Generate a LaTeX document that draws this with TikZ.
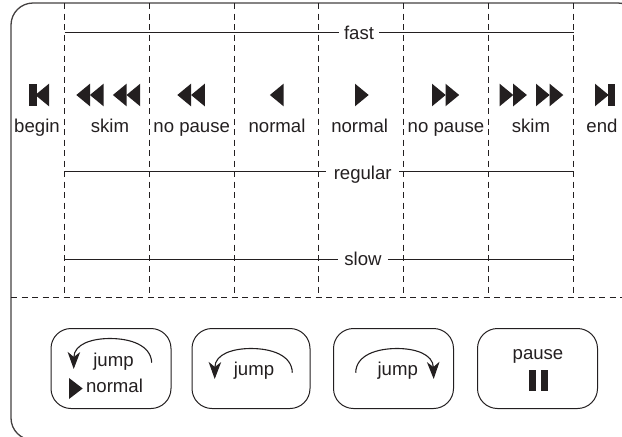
\documentclass[tikz,border=0pt]{standalone}
\usepackage{fontspec}
\setmainfont{Liberation Sans}
\usetikzlibrary{arrows.meta}
\definecolor{ink}{HTML}{231F20}
\tikzset{
  lbl/.style={anchor=base,inner sep=0pt,font=\fontsize{18.6}{20}\selectfont,text=ink},
  axis/.style={lbl,inner xsep=5pt},
  guide/.style={draw=ink,line width=0.9pt,dash pattern=on 6pt off 4.5pt},
  speed/.style={draw=ink,line width=1pt},
  btn/.style={draw=ink,line width=1pt,rounded corners=20pt},
  glyph/.style={fill=ink,draw=none},
  jumparc/.style={draw=ink,line width=1.1pt,-{Stealth[length=17pt,width=12.5pt,inset=5pt]}}
}
\newcommand{\triR}[2]{\path[glyph] (#1,83.7) -- ++(13.7,11.3) -- ++(-13.7,11.3) -- cycle;}
\newcommand{\triL}[2]{\path[glyph] (#1,83.7) -- ++(-13.7,11.3) -- ++(13.7,11.3) -- cycle;}
\begin{document}
\begin{tikzpicture}[x=1pt,y=-1pt]
\useasboundingbox (0,0) rectangle (622,437);
\clip (0,0) rectangle (622,437);
% frame
\draw[draw=ink!85,line width=1.3pt,rounded corners=22pt] (11,3) rectangle (640,440);
% guides
\coordinate (gt1) at (64.5,3);\coordinate (gb1) at (64.5,297);
\coordinate (gt2) at (149.5,3);\coordinate (gb2) at (149.5,297);
\coordinate (gt3) at (234.5,3);\coordinate (gb3) at (234.5,297);
\coordinate (gt4) at (318.5,3);\coordinate (gb4) at (318.5,297);
\coordinate (gt5) at (403.5,3);\coordinate (gb5) at (403.5,297);
\coordinate (gt6) at (488.5,3);\coordinate (gb6) at (488.5,297);
\coordinate (gt7) at (573.5,3);\coordinate (gb7) at (573.5,297);
\foreach \i in {1,...,7} \draw[guide] (gt\i) -- (gb\i);
\coordinate (hl) at (11,297);\coordinate (hr) at (622,297);
\draw[guide] (hl) -- (hr);
% speed lines
\node[axis] (fast) at (359,39) {fast};
\node[axis,inner xsep=7.5pt] (regular) at (362.7,179.3) {regular};
\node[axis,inner xsep=6pt] (slow) at (363,265) {slow};
\coordinate (fl) at (64.5,32.5);\coordinate (fr) at (573.5,32.5);
\coordinate (rl) at (64.5,171);\coordinate (rr) at (573.5,171);
\coordinate (sl) at (64.5,259.5);\coordinate (sr) at (573.5,259.5);
\draw[speed] (fl) -- (fl -| fast.west);
\draw[speed] (fr -| fast.east) -- (fr);
\draw[speed] (rl) -- (rl -| regular.west);
\draw[speed] (rr -| regular.east) -- (rr);
\draw[speed] (sl) -- (sl -| slow.west);
\draw[speed] (sr -| slow.east) -- (sr);
% glyphs
\path[glyph] (29.3,83.7) rectangle (36.5,106.3);
\triL{49}{}
\triL{90}{}\triL{103.6}{}\triL{126.6}{}\triL{140.2}{}
\triL{191}{}\triL{204.8}{}
\triL{283.6}{}
\triR{355}{}
\triR{432}{}\triR{445.5}{}
\triR{499.6}{}\triR{513.2}{}\triR{536}{}\triR{549.6}{}
\triR{595}{}
\path[glyph] (608,83.7) rectangle (614.5,106.3);
% labels
\node[lbl] (lbegin) at (37,132.5) {begin};
\node[lbl] (lskimL) at (110,132.5) {skim};
\node[lbl] (lnpL) at (191.7,132.5) {no pause};
\node[lbl] (lnL) at (277,132.5) {normal};
\node[lbl] (lnR) at (359.7,132.5) {normal};
\node[lbl] (lnpR) at (446,132.5) {no pause};
\node[lbl] (lskimR) at (531,132.5) {skim};
\node[lbl] (lend) at (602,132.5) {end};
% buttons
\path[btn] (51,328.5) rectangle (171,408.5);
\path[btn] (192,328.5) rectangle (310,408.5);
\path[btn] (333.5,328.5) rectangle (453.5,408.5);
\path[btn] (477.5,328.5) rectangle (597.5,408.5);
% button 1
\node[lbl] (j1) at (113.5,366) {jump};
\node[lbl] (n1) at (114.5,392.5) {normal};
\coordinate (a1s) at (151.7,362.7);\coordinate (a1e) at (73.7,369);
\draw[jumparc] (a1s) .. controls (151,345) and (130,338.5) .. (110,338.5) .. controls (92,338.5) and (74,344) .. (a1e);
\path[glyph] (69,378) -- (82.7,388.5) -- (69,399) -- cycle;
% button 2
\node[lbl] (j2) at (254,375.7) {jump};
\coordinate (a2s) at (292.3,372.7);\coordinate (a2e) at (214.7,379);
\draw[jumparc] (a2s) .. controls (292,355) and (271,348.5) .. (251,348.5) .. controls (233,348.5) and (215,354) .. (a2e);
% button 3
\node[lbl] (j3) at (397.7,375.7) {jump};
\coordinate (a3s) at (355.7,372.7);\coordinate (a3e) at (433.7,379);
\draw[jumparc] (a3s) .. controls (356,355) and (377,348.5) .. (397,348.5) .. controls (415,348.5) and (433,354) .. (a3e);
% button 4
\node[lbl] (p4) at (538,359) {pause};
\path[glyph] (529.3,370.3) rectangle (536,391);
\path[glyph] (541.3,370.3) rectangle (548,391);
\end{tikzpicture}
\end{document}
